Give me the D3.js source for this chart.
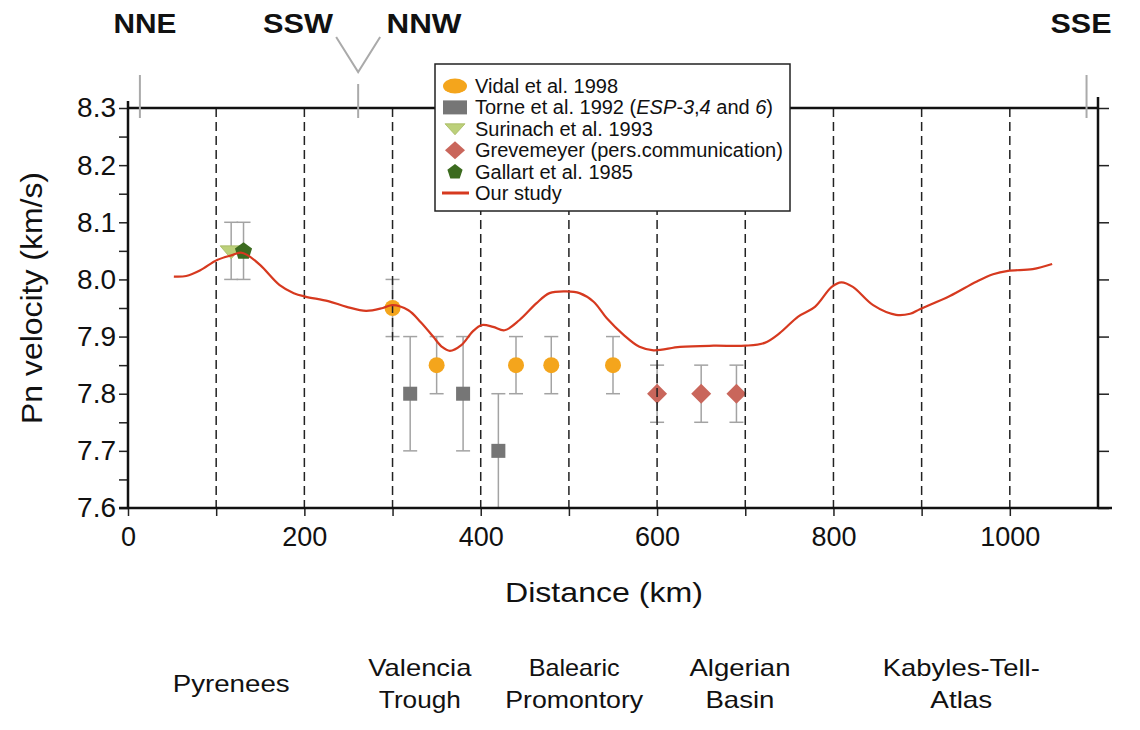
<!DOCTYPE html>
<html>
<head>
<meta charset="utf-8">
<script src="https://cdn.jsdelivr.net/npm/d3@7/dist/d3.min.js"></script>
<style>
  html, body { margin: 0; padding: 0; background: #fff; }
  svg { display: block; font-family: "Liberation Sans", Arial, Helvetica, sans-serif; }
</style>
</head>
<body>
<svg id="chart" width="1140" height="730"></svg>
<script>
// ---- data -------------------------------------------------------------
// Pn velocity (km/s) against distance along the profile (km)
const vidal = [          // [distance, velocity, error]
  [300, 7.95, 0.05], [350, 7.85, 0.05], [440, 7.85, 0.05], [480, 7.85, 0.05], [550, 7.85, 0.05]
];
const torne = [
  [320, 7.80, 0.10], [380, 7.80, 0.10], [420, 7.70, 0.10]
];
const surinach = [[117, 8.05, 0.05]];
const gallart = [[131, 8.05, 0.05]];
const grevemeyer = [
  [600, 7.80, 0.05], [650, 7.80, 0.05], [690, 7.80, 0.05]
];
const ourStudy = [
  [52, 8.005], [66, 8.006], [82, 8.016], [101, 8.034], [119, 8.043], [128, 8.047], [135, 8.043],
  [150, 8.025], [172, 7.990], [188, 7.976], [201, 7.970], [227, 7.962], [248, 7.952], [270, 7.945],
  [289, 7.950], [300, 7.955], [318, 7.946], [332, 7.925], [346, 7.900], [356, 7.882], [365, 7.875],
  [378, 7.885], [391, 7.909], [401, 7.920], [414, 7.917], [427, 7.911], [444, 7.929], [463, 7.958],
  [478, 7.976], [497, 7.979], [512, 7.976], [528, 7.961], [543, 7.932], [562, 7.903], [580, 7.882],
  [596, 7.876], [626, 7.882], [664, 7.884], [700, 7.884], [722, 7.889], [739, 7.906], [760, 7.935],
  [779, 7.952], [798, 7.987], [809, 7.995], [822, 7.987], [845, 7.955], [871, 7.938], [887, 7.940],
  [898, 7.948], [932, 7.971], [962, 7.996], [981, 8.009], [998, 8.015], [1026, 8.018], [1048, 8.027]
];
const xTickLabels = [0, 200, 400, 600, 800, 1000];
const yTickLabels = [7.6, 7.7, 7.8, 7.9, 8.0, 8.1, 8.2, 8.3];
const boundaries = [100, 200, 300, 400, 500, 600, 700, 800, 900, 1000];
const regions = [
  ["Pyrenees"], ["Valencia", "Trough"], ["Balearic", "Promontory"],
  ["Algerian", "Basin"], ["Kabyles-Tell-", "Atlas"]
];
const directions = ["NNE", "SSW", "NNW", "SSE"];

// ---- layout -----------------------------------------------------------
const regionCentre = [117, 331, 506, 694, 945];          // km
const regionWidths = [[117], [103, 82], [91, 138], [101, 69], [157, 62]];
const dirCentre = [145, 298, 424, 1081];                  // px
const dirWidths = [63, 70, 75, 61];

const svg = d3.select("#chart");
const x = d3.scaleLinear().domain([0, 1100]).range([128, 1098]);
const y = d3.scaleLinear().domain([7.6, 8.3]).range([508, 108]);

function fit(sel, w) {
  sel.attr("textLength", w).attr("lengthAdjust", "spacingAndGlyphs");
}

const COL = {
  vidal: "#f4a51c", torne: "#767676", surinach: "#bcd07a", surinachStroke: "#a4b85e",
  grev: "#c9665b", gallart: "#3c6b1f", line: "#d6391f", err: "#a3a3a3"
};

// ---- error bars -------------------------------------------------------
const errG = svg.append("g").attr("stroke", COL.err).attr("stroke-width", 1.5).attr("fill", "none");
[vidal, torne, surinach, gallart, grevemeyer].forEach(set => {
  set.forEach(([d, v, e]) => {
    const cx = x(d);
    errG.append("line").attr("x1", cx).attr("x2", cx).attr("y1", y(v - e)).attr("y2", y(v + e));
    errG.append("line").attr("x1", cx - 7).attr("x2", cx + 7).attr("y1", y(v + e)).attr("y2", y(v + e));
    if (v - e > 7.6) errG.append("line").attr("x1", cx - 7).attr("x2", cx + 7).attr("y1", y(v - e)).attr("y2", y(v - e));
  });
});

// ---- markers ----------------------------------------------------------
const mk = svg.append("g");
mk.selectAll(".vidal").data(vidal).join("circle")
  .attr("cx", d => x(d[0])).attr("cy", d => y(d[1])).attr("r", 8).attr("fill", COL.vidal);
mk.selectAll(".torne").data(torne).join("rect")
  .attr("x", d => x(d[0]) - 7).attr("y", d => y(d[1]) - 7).attr("width", 14).attr("height", 14)
  .attr("fill", COL.torne);
mk.selectAll(".grev").data(grevemeyer).join("path")
  .attr("transform", d => `translate(${x(d[0])},${y(d[1])})`)
  .attr("d", "M0,-10L10,0L0,10L-10,0Z").attr("fill", COL.grev);
mk.selectAll(".sur").data(surinach).join("path")
  .attr("transform", d => `translate(${x(d[0])},${y(d[1])})`)
  .attr("d", "M-11,-5L11,-5L0,8Z").attr("fill", COL.surinach).attr("stroke", COL.surinachStroke).attr("stroke-width", 0.8);
function pentagon(r) {
  const pts = d3.range(5).map(i => {
    const a = -Math.PI / 2 + i * 2 * Math.PI / 5;
    return [r * Math.cos(a), r * Math.sin(a)];
  });
  return "M" + pts.map(p => p.join(",")).join("L") + "Z";
}
mk.selectAll(".gal").data(gallart).join("path")
  .attr("transform", d => `translate(${x(d[0])},${y(d[1]) + 0.5})`)
  .attr("d", pentagon(9)).attr("fill", COL.gallart);

// ---- boundary dashes --------------------------------------------------
svg.append("g").selectAll("line").data(boundaries).join("line")
  .attr("x1", d => x(d)).attr("x2", d => x(d)).attr("y1", y(8.3)).attr("y2", y(7.6))
  .attr("stroke", "#222").attr("stroke-width", 1.5).attr("stroke-dasharray", "9,5");

// ---- our study curve --------------------------------------------------
const line = d3.line().x(d => x(d[0])).y(d => y(d[1])).curve(d3.curveCatmullRom.alpha(0.5));
svg.append("path").datum(ourStudy).attr("d", line)
  .attr("fill", "none").attr("stroke", COL.line).attr("stroke-width", 2.2);

// ---- frame and axes ---------------------------------------------------
const frame = svg.append("g").attr("stroke", "#111").attr("stroke-width", 2.5).attr("fill", "none");
frame.append("line").attr("x1", x(0)).attr("x2", x(0)).attr("y1", y(8.3) - 7).attr("y2", y(7.6));
frame.append("line").attr("x1", x(1100)).attr("x2", x(1100)).attr("y1", y(8.3) - 11).attr("y2", y(7.6));
frame.append("line").attr("x1", x(0)).attr("x2", x(1100)).attr("y1", y(8.3)).attr("y2", y(8.3));

// left axis: major ticks with labels, minor ticks between
const yAxis = d3.axisLeft(y).tickValues(d3.range(7.6, 8.301, 0.05)).tickSize(9)
  .tickFormat(d => Math.abs(d * 10 - Math.round(d * 10)) < 1e-6 ? d3.format(".1f")(d) : "");
const yg = svg.append("g").attr("transform", `translate(${x(0)},0)`).call(yAxis);
yg.select(".domain").remove();
yg.selectAll(".tick line").attr("stroke", "#222").attr("stroke-width", 1.5);
yg.selectAll(".tick text").attr("font-size", 28).attr("fill", "#111").attr("x", -12)
  .attr("font-family", "Liberation Sans, Arial, sans-serif");

// right side ticks
const yr = svg.append("g").attr("transform", `translate(${x(1100)},0)`)
  .call(d3.axisRight(y).tickValues(yTickLabels).tickSize(11).tickFormat(""));
yr.select(".domain").remove();
yr.selectAll(".tick line").attr("stroke", "#222").attr("stroke-width", 1.5);

// bottom axis
const xg = svg.append("g").attr("transform", `translate(0,${y(7.6)})`)
  .call(d3.axisBottom(x).tickValues(d3.range(0, 1001, 100)).tickSize(8)
    .tickFormat(d => xTickLabels.includes(d) ? d : ""));
xg.select(".domain").remove();
xg.selectAll(".tick line").attr("stroke", "#222").attr("stroke-width", 1.5);
xg.selectAll(".tick text").attr("font-size", 27).attr("fill", "#111").attr("dy", 0).attr("y", 38)
  .attr("font-family", "Liberation Sans, Arial, sans-serif");
frame.raise();
frame.append("line").attr("x1", x(0) - 9).attr("x2", x(1100) + 14).attr("y1", y(7.6)).attr("y2", y(7.6));

// axis titles
svg.append("text").attr("x", 604).attr("y", 602).attr("text-anchor", "middle")
  .attr("font-size", 28).attr("fill", "#111").text("Distance (km)").call(fit, 198);
svg.append("text").attr("transform", "translate(42,298) rotate(-90)").attr("text-anchor", "middle")
  .attr("font-size", 29).attr("fill", "#111").text("Pn velocity (km/s)").call(fit, 252);

// ---- profile direction markers ---------------------------------------
const mg = svg.append("g").attr("stroke", "#aaa").attr("stroke-width", 2).attr("fill", "none");
mg.append("line").attr("x1", x(13.5)).attr("x2", x(13.5)).attr("y1", 75).attr("y2", 118);
mg.append("line").attr("x1", x(1087)).attr("x2", x(1087)).attr("y1", 75).attr("y2", 118);
mg.append("line").attr("x1", x(261)).attr("x2", x(261)).attr("y1", 84).attr("y2", 118);
mg.append("path").attr("d", `M${x(261) - 22},37L${x(261)},72L${x(261) + 22},37`);

svg.append("g").selectAll("text").data(directions).join("text")
  .attr("x", (d, i) => dirCentre[i]).attr("y", 33).attr("text-anchor", "middle")
  .attr("font-size", 28).attr("font-weight", "bold").attr("fill", "#111")
  .text(d => d).each(function (d, i) { d3.select(this).call(fit, dirWidths[i]); });

// ---- region names -----------------------------------------------------
regions.forEach((lines, i) => {
  const baseY = lines.length === 1 ? [692] : [676, 708];
  lines.forEach((t, j) => {
    svg.append("text").attr("x", x(regionCentre[i])).attr("y", baseY[j]).attr("text-anchor", "middle")
      .attr("font-size", 24).attr("fill", "#111").text(t).call(fit, regionWidths[i][j]);
  });
});

// ---- legend -----------------------------------------------------------
const lg = svg.append("g");
lg.append("rect").attr("x", 435).attr("y", 64).attr("width", 355).attr("height", 147)
  .attr("fill", "#fff").attr("stroke", "#222").attr("stroke-width", 1.5);
const rowY = i => 86 + i * 21.4;
const sx = 455;
lg.append("ellipse").attr("cx", sx).attr("cy", rowY(0)).attr("rx", 12).attr("ry", 7.5).attr("fill", COL.vidal);
lg.append("rect").attr("x", sx - 12).attr("y", rowY(1) - 7).attr("width", 24).attr("height", 14).attr("fill", COL.torne);
lg.append("path").attr("transform", `translate(${sx},${rowY(2)})`).attr("d", "M-10,-5L10,-5L0,6Z")
  .attr("fill", COL.surinach).attr("stroke", COL.surinachStroke).attr("stroke-width", 0.8);
lg.append("path").attr("transform", `translate(${sx},${rowY(3)})`).attr("d", "M0,-9L10,0L0,9L-10,0Z").attr("fill", COL.grev);
lg.append("path").attr("transform", `translate(${sx},${rowY(4) + 0.5})`).attr("d", pentagon(8)).attr("fill", COL.gallart);
lg.append("line").attr("x1", sx - 13).attr("x2", sx + 14).attr("y1", rowY(5)).attr("y2", rowY(5))
  .attr("stroke", COL.line).attr("stroke-width", 3);

const legendText = [
  [["Vidal et al. 1998", false]],
  [["Torne et al. 1992 (", false], ["ESP-3", true], [",", false], ["4", true], [" and ", false], ["6", true], [")", false]],
  [["Surinach et al. 1993", false]],
  [["Grevemeyer (pers.communication)", false]],
  [["Gallart et al. 1985", false]],
  [["Our study", false]]
];
legendText.forEach((parts, i) => {
  const t = lg.append("text").attr("x", 475).attr("y", rowY(i) + 7).attr("font-size", 20).attr("fill", "#111");
  parts.forEach(([s, it]) => t.append("tspan").attr("font-style", it ? "italic" : "normal").text(s));
});
</script>
</body>
</html>
